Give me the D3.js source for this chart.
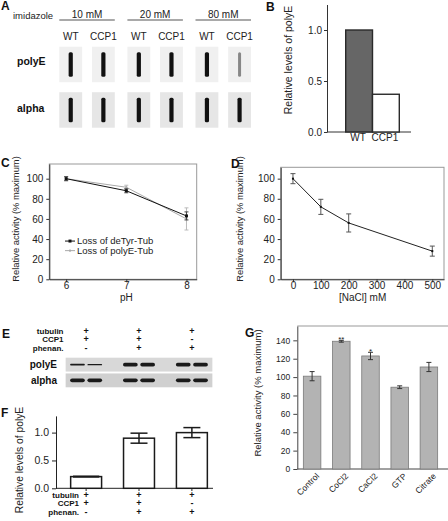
<!DOCTYPE html>
<html><head><meta charset="utf-8">
<script src="https://cdn.jsdelivr.net/npm/d3@7"></script>
<style>body{margin:0;background:#fff} svg{display:block;font-family:"Liberation Sans",Arial,sans-serif}</style>
</head><body><svg id="fig" width="448" height="521"></svg>
<script>
// ---------- DATA ----------
// Panel A (blot)
const blotConc = ["10 mM", "20 mM", "80 mM"];
const blotGeno = ["WT", "CCP1"];
const blotRows = ["polyE", "alpha"];
const blotPolyE = [1, 1, 1, 1, 1, 0.45];   // band intensity per lane
const blotAlpha = [1, 1, 1, 1, 1, 1];
// Panel B
const bCats = ["WT", "CCP1"];
const bVals = [1.0, 0.37];
const bTicks = [0, 0.5, 1.0];
// Panel C
const phX = [6, 7, 8];
const deTyrVals = [100, 88, 63];
const deTyrErr = [2, 2, 4];
const polyEVals = [100, 91.5, 60];
const polyEErr = [2, 2, 11];
const cSeries = ["Loss of deTyr-Tub", "Loss of polyE-Tub"];
const actTicks = [0, 20, 40, 60, 80, 100];
// Panel D
const naclX = [0, 100, 200, 500];
const naclVals = [100, 72, 56, 28];
const naclErr = [5, 7.5, 9, 5];
const naclTicks = [0, 100, 200, 300, 400, 500];
// Panel E / F
const fConds = ["c1", "c2", "c3"];
const condRows = ["tubulin", "CCP1", "phenan."];
const condSigns = [["+", "+", "+"], ["+", "+", "-"], ["-", "+", "+"]];
const eRows = ["polyE", "alpha"];
const ePolyE = [0.45, 0.4, 1, 1, 1, 1];    // band thickness per lane
const eAlpha = [1.1, 1, 1, 1, 1, 1];
const fVals = [0.21, 0.9, 1.0];
const fErr = [0.006, 0.09, 0.09];
const fTicks = [0, 0.5, 1.0];
// Panel G
const gCats = ["Control", "CoCl2", "CaCl2", "GTP", "Citrate"];
const gVals = [101, 139, 123, 89, 111];
const gErr = [5, 1, 4, 1.5, 5];
const gSig = ["", "**", "*", "", ""];
const gTicks = [0, 20, 40, 60, 80, 100, 120, 140];

// ---------- HELPERS ----------
const svg = d3.select("#fig");
function letter(t, x, y) {
  svg.append("text").attr("x", x).attr("y", y).attr("font-size", 12)
    .attr("font-weight", "bold").attr("fill", "#111").text(t);
}
function styleAxis(g, fs, col) {
  g.attr("font-family", null).attr("font-size", fs);
  g.selectAll("line,path").attr("stroke", col || "#333");
  g.selectAll("text").attr("fill", "#222");
}
function vlabel(t, x, y, fs) {
  svg.append("text").attr("transform", `translate(${x},${y}) rotate(-90)`)
    .attr("text-anchor", "middle").attr("font-size", fs).attr("fill", "#222").text(t);
}

// ---------- PANEL A ----------
letter("A", 1, 10);
svg.append("text").attr("x", 13).attr("y", 18.5).attr("font-size", 9.5).attr("fill", "#222").text("imidazole");
const xConc = d3.scaleBand().domain(blotConc).range([59.3, 251]).paddingInner(0.185);
const xGeno = d3.scaleBand().domain(blotGeno).range([0, xConc.bandwidth()]).paddingInner(0.3);
const yRowA = d3.scaleBand().domain(blotRows).range([46.7, 127.7]).paddingInner(0.22);
blotConc.forEach((c, ci) => {
  const x0 = xConc(c);
  svg.append("text").attr("x", x0 + xConc.bandwidth() / 2).attr("y", 17.5)
    .attr("text-anchor", "middle").attr("font-size", 10).attr("fill", "#222").text(c);
  svg.append("line").attr("x1", x0).attr("x2", x0 + xConc.bandwidth())
    .attr("y1", 20).attr("y2", 20).attr("stroke", "#555").attr("stroke-width", 1.2);
  blotGeno.forEach((gname, gi) => {
    const lane = ci * 2 + gi;
    const bx = x0 + xGeno(gname);
    const bw = xGeno.bandwidth();
    svg.append("text").attr("x", bx + bw / 2).attr("y", 39.5).attr("text-anchor", "middle")
      .attr("font-size", 10).attr("fill", "#222").text(gname);
    blotRows.forEach((r, ri) => {
      const by = yRowA(r), bh = yRowA.bandwidth();
      svg.append("rect").attr("x", bx).attr("y", by).attr("width", bw).attr("height", bh)
        .attr("fill", ri === 0 ? "#f0f0f0" : "#e6e6e6");
      const inten = (ri === 0 ? blotPolyE : blotAlpha)[lane];
      const col = d3.interpolateRgb("#e8e8e8", "#111")(inten);
      const w = inten < 1 ? 3 : 4.2;
      svg.append("rect").attr("x", bx + bw / 2 - w / 2).attr("y", by + 5.5).attr("width", w)
        .attr("height", bh - 11).attr("rx", 1.5).attr("fill", col);
    });
  });
});
svg.append("text").attr("x", 17).attr("y", 65).attr("font-size", 10.5).attr("font-weight", "bold").attr("fill", "#111").text("polyE");
svg.append("text").attr("x", 17).attr("y", 112).attr("font-size", 10.5).attr("font-weight", "bold").attr("fill", "#111").text("alpha");

// ---------- PANEL B ----------
letter("B", 266, 11);
const yB = d3.scaleLinear().domain([0, 1.25]).range([132, 4.5]);
const xB = d3.scaleBand().domain(bCats).range([345.7, 399.3]);
const gBy = svg.append("g").attr("transform", "translate(327,0)")
  .call(d3.axisLeft(yB).tickValues(bTicks).tickFormat(d3.format(".1f")).tickSize(3).tickPadding(2).tickSizeOuter(0));
styleAxis(gBy, 10);
svg.append("line").attr("x1", 327).attr("x2", 411).attr("y1", 132).attr("y2", 132).attr("stroke", "#333");
svg.selectAll(".barB").data(bCats).enter().append("rect")
  .attr("x", d => xB(d)).attr("width", xB.bandwidth())
  .attr("y", (d, i) => yB(bVals[i])).attr("height", (d, i) => yB(0) - yB(bVals[i]))
  .attr("fill", (d, i) => i === 0 ? "#666" : "#fff").attr("stroke", "#2a2a2a").attr("stroke-width", 1.4);
svg.selectAll(".lblB").data(bCats).enter().append("text")
  .attr("x", d => xB(d) + xB.bandwidth() / 2 - 1).attr("y", 141).attr("text-anchor", "middle")
  .attr("font-size", 10).attr("fill", "#222").text(d => d);
vlabel("Relative levels of polyE", 292, 60, 10.5);

// ---------- PANEL C ----------
letter("C", 1, 167);
const xC = d3.scaleLinear().domain([5.72, 8.17]).range([49.3, 196.7]);
const yC = d3.scaleLinear().domain([0, 114.6]).range([279.3, 164]);
svg.append("rect").attr("x", 49.3).attr("y", 164).attr("width", 196.7 - 49.3).attr("height", 279.3 - 164)
  .attr("fill", "none").attr("stroke", "#999");
const gCy = svg.append("g").attr("transform", "translate(49.3,0)")
  .call(d3.axisLeft(yC).tickValues(actTicks).tickSize(3).tickPadding(3).tickSizeOuter(0));
styleAxis(gCy, 10);
const gCx = svg.append("g").attr("transform", "translate(0,279.3)")
  .call(d3.axisBottom(xC).tickValues(phX).tickFormat(d3.format("d")).tickSize(3).tickPadding(0).tickSizeOuter(0));
styleAxis(gCx, 10);
const cData = [
  { vals: polyEVals, err: polyEErr, col: "#aaa", mk: 2 },
  { vals: deTyrVals, err: deTyrErr, col: "#111", mk: 3 }
];
cData.forEach(s => {
  const pts = phX.map((x, i) => [x, s.vals[i], s.err[i]]);
  svg.append("path").datum(pts).attr("fill", "none").attr("stroke", s.col).attr("stroke-width", 1)
    .attr("d", d3.line().x(d => xC(d[0])).y(d => yC(d[1])));
  pts.forEach(d => {
    const x = xC(d[0]);
    svg.append("line").attr("x1", x).attr("x2", x).attr("y1", yC(d[1] - d[2])).attr("y2", yC(d[1] + d[2]))
      .attr("stroke", s.col === "#111" ? "#444" : "#bbb");
    [d[1] - d[2], d[1] + d[2]].forEach(v => svg.append("line").attr("x1", x - 2).attr("x2", x + 2)
      .attr("y1", yC(v)).attr("y2", yC(v)).attr("stroke", s.col === "#111" ? "#444" : "#bbb"));
    svg.append("rect").attr("x", x - s.mk / 2).attr("y", yC(d[1]) - s.mk / 2).attr("width", s.mk).attr("height", s.mk).attr("fill", s.col);
  });
});
// legend
const legY = [yC(38), yC(28.5)];
cSeries.forEach((t, i) => {
  const col = i === 0 ? "#111" : "#aaa";
  svg.append("line").attr("x1", 65).attr("x2", 75).attr("y1", legY[i]).attr("y2", legY[i]).attr("stroke", col);
  const mk = i === 0 ? 3 : 2;
  svg.append("rect").attr("x", 70 - mk / 2).attr("y", legY[i] - mk / 2).attr("width", mk).attr("height", mk).attr("fill", col);
  svg.append("text").attr("x", 77).attr("y", legY[i] + 3.3).attr("font-size", 9.5).attr("fill", "#222").text(t);
});
svg.append("text").attr("x", xC(7)).attr("y", 300.5).attr("text-anchor", "middle").attr("font-size", 10).attr("fill", "#222").text("pH");
vlabel("Relative activity (% maximum)", 19, 219, 9.4);

// ---------- PANEL D ----------
letter("D", 231, 168);
const xD = d3.scaleLinear().domain([-44, 542]).range([280.7, 444]);
const yD = d3.scaleLinear().domain([0, 111.3]).range([279.3, 167.3]);
svg.append("rect").attr("x", 280.7).attr("y", 167.3).attr("width", 444 - 280.7).attr("height", 279.3 - 167.3)
  .attr("fill", "none").attr("stroke", "#999");
const gDy = svg.append("g").attr("transform", "translate(280.7,0)")
  .call(d3.axisLeft(yD).tickValues(actTicks).tickSize(3).tickPadding(3).tickSizeOuter(0));
styleAxis(gDy, 10);
const gDx = svg.append("g").attr("transform", "translate(0,279.3)")
  .call(d3.axisBottom(xD).tickValues(naclTicks).tickSize(3).tickPadding(0).tickSizeOuter(0));
styleAxis(gDx, 10);
const dPts = naclX.map((x, i) => [x, naclVals[i], naclErr[i]]);
svg.append("path").datum(dPts).attr("fill", "none").attr("stroke", "#222").attr("stroke-width", 1)
  .attr("d", d3.line().x(d => xD(d[0])).y(d => yD(d[1])));
dPts.forEach(d => {
  const x = xD(d[0]);
  svg.append("line").attr("x1", x).attr("x2", x).attr("y1", yD(d[1] - d[2])).attr("y2", yD(d[1] + d[2])).attr("stroke", "#555");
  [d[1] - d[2], d[1] + d[2]].forEach(v => svg.append("line").attr("x1", x - 2.5).attr("x2", x + 2.5)
    .attr("y1", yD(v)).attr("y2", yD(v)).attr("stroke", "#555"));
  svg.append("rect").attr("x", x - 1).attr("y", yD(d[1]) - 1).attr("width", 2).attr("height", 2).attr("fill", "#111");
});
svg.append("text").attr("x", xD(250)).attr("y", 301).attr("text-anchor", "middle").attr("font-size", 10).attr("fill", "#222").text("[NaCl] mM");
vlabel("Relative activity (% maximum)", 243, 219, 9.4);

// ---------- PANEL E ----------
letter("E", 2, 338);
const xF = d3.scaleBand().domain(fConds).range([56, 222]).paddingInner(0.415).paddingOuter(0.277);
const colC = d => xF(d) + xF.bandwidth() / 2;
const eRowY = [333.5, 342, 350.5];
condRows.forEach((r, ri) => {
  svg.append("text").attr("x", 63.5).attr("y", eRowY[ri]).attr("text-anchor", "end").attr("font-size", 8)
    .attr("font-weight", "bold").attr("fill", "#111").text(r);
  fConds.forEach((c, ci) => svg.append("text").attr("x", colC(c)).attr("y", eRowY[ri]).attr("text-anchor", "middle")
    .attr("font-size", 9).attr("font-weight", "bold").attr("fill", "#111").text(condSigns[ri][ci]));
});
const yE = d3.scaleBand().domain(eRows).range([357.7, 387.3]).paddingInner(0.12);
const stripL = xF(fConds[0]) - 5, stripR = xF(fConds[2]) + xF.bandwidth() + 5;
eRows.forEach((r, ri) => {
  const y0 = yE(r), h = yE.bandwidth();
  svg.append("rect").attr("x", stripL).attr("y", y0).attr("width", stripR - stripL).attr("height", h)
    .attr("fill", ri === 0 ? "#d8d8d8" : "#d0d0d0");
  svg.append("text").attr("x", 57).attr("y", y0 + h / 2 + 3.6).attr("text-anchor", "end").attr("font-size", 10)
    .attr("font-weight", "bold").attr("fill", "#111").text(r);
  fConds.forEach((c, ci) => {
    const lanes = d3.scaleBand().domain([0, 1]).range([colC(c) - 16, colC(c) + 16]).paddingInner(0.15);
    [0, 1].forEach(li => {
      const th = (ri === 0 ? ePolyE : eAlpha)[ci * 2 + li] * 3.6;
      svg.append("rect").attr("x", lanes(li)).attr("width", lanes.bandwidth())
        .attr("y", y0 + h / 2 - th / 2).attr("height", th).attr("rx", th / 2).attr("fill", "#1a1a1a");
    });
  });
});

// ---------- PANEL F ----------
letter("F", 1, 417);
const yF = d3.scaleLinear().domain([0, 1.3]).range([488.3, 415.9]);
const gFy = svg.append("g").attr("transform", "translate(56,0)")
  .call(d3.axisLeft(yF).tickValues(fTicks).tickFormat(d3.format(".1f")).tickSize(4).tickPadding(3).tickSizeOuter(0));
styleAxis(gFy, 10.5, "#222");
svg.append("line").attr("x1", 56).attr("x2", 213).attr("y1", 488.3).attr("y2", 488.3).attr("stroke", "#222");
fConds.forEach((c, i) => {
  svg.append("line").attr("x1", colC(c)).attr("x2", colC(c)).attr("y1", 488.3).attr("y2", 491).attr("stroke", "#222");
});
svg.selectAll(".barF").data(fConds).enter().append("rect")
  .attr("x", d => xF(d)).attr("width", xF.bandwidth())
  .attr("y", (d, i) => yF(fVals[i])).attr("height", (d, i) => yF(0) - yF(fVals[i]))
  .attr("fill", "#fff").attr("stroke", "#1a1a1a").attr("stroke-width", 1.5);
fConds.forEach((c, i) => {
  const x = colC(c);
  const lo = fVals[i] - fErr[i], hi = fVals[i] + fErr[i];
  svg.append("line").attr("x1", x).attr("x2", x).attr("y1", yF(lo)).attr("y2", yF(hi)).attr("stroke", "#1a1a1a").attr("stroke-width", 1.5);
  const cw = i === 0 ? xF.bandwidth() * 0.85 : 17;
  [lo, hi].forEach(v => svg.append("line").attr("x1", x - cw / 2).attr("x2", x + cw / 2)
    .attr("y1", yF(v)).attr("y2", yF(v)).attr("stroke", "#1a1a1a").attr("stroke-width", 1.5));
});
const fRowY = [497.5, 506, 514.5];
condRows.forEach((r, ri) => {
  svg.append("text").attr("x", 79).attr("y", fRowY[ri]).attr("text-anchor", "end").attr("font-size", 8)
    .attr("font-weight", "bold").attr("fill", "#111").text(r);
  fConds.forEach((c, ci) => svg.append("text").attr("x", colC(c)).attr("y", fRowY[ri]).attr("text-anchor", "middle")
    .attr("font-size", 9).attr("font-weight", "bold").attr("fill", "#111").text(condSigns[ri][ci]));
});
vlabel("Relative levels of polyE", 23, 460, 10.3);

// ---------- PANEL G ----------
letter("G", 245, 337);
const yG = d3.scaleLinear().domain([0, 155.6]).range([469, 326]);
const xG = d3.scaleBand().domain(gCats).range([297.3, 443.7]).paddingInner(0.4).paddingOuter(0.207);
svg.append("line").attr("x1", 297.3).attr("x2", 448).attr("y1", 326).attr("y2", 326).attr("stroke", "#999");
svg.append("line").attr("x1", 297.3).attr("x2", 448).attr("y1", 469).attr("y2", 469).attr("stroke", "#444");
const gGy = svg.append("g").attr("transform", "translate(297.3,0)")
  .call(d3.axisLeft(yG).tickValues(gTicks).tickSize(4).tickPadding(3).tickSizeOuter(0));
styleAxis(gGy, 8.5, "#444");
svg.selectAll(".barG").data(gCats).enter().append("rect")
  .attr("x", d => xG(d)).attr("width", xG.bandwidth())
  .attr("y", (d, i) => yG(gVals[i])).attr("height", (d, i) => yG(0) - yG(gVals[i]))
  .attr("fill", "#b3b3b3").attr("stroke", "#7a7a7a").attr("stroke-width", 0.8);
gCats.forEach((c, i) => {
  const x = xG(c) + xG.bandwidth() / 2;
  const lo = gVals[i] - gErr[i], hi = gVals[i] + gErr[i];
  svg.append("line").attr("x1", x).attr("x2", x).attr("y1", yG(lo)).attr("y2", yG(hi)).attr("stroke", "#333");
  [lo, hi].forEach(v => svg.append("line").attr("x1", x - 2.5).attr("x2", x + 2.5)
    .attr("y1", yG(v)).attr("y2", yG(v)).attr("stroke", "#333"));
  if (gSig[i]) svg.append("text").attr("x", x).attr("y", yG(hi) + 2).attr("text-anchor", "middle")
    .attr("font-size", 8).attr("fill", "#222").text(gSig[i]);
  svg.append("text").attr("transform", `translate(${x + 4},${473}) rotate(-45)`).attr("text-anchor", "end")
    .attr("font-size", 8.5).attr("fill", "#222").attr("dy", "0.6em").text(c);
});
vlabel("Relative activity (% maximum)", 261, 393, 9.5);
</script></body></html>
